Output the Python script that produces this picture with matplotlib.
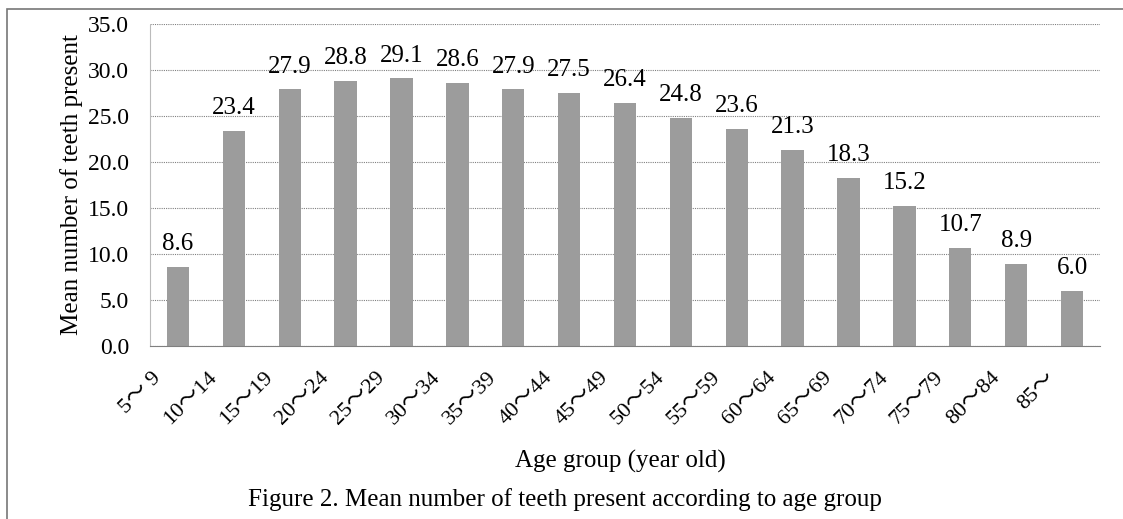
import matplotlib.pyplot as plt
import matplotlib.transforms as mtransforms
from matplotlib.patches import Rectangle

plt.rcParams['font.family'] = ['Liberation Serif', 'Noto Sans CJK JP', 'DejaVu Serif']

age_groups = ['5～ 9', '10～14', '15～19', '20～24', '25～29', '30～34', '35～39',
              '40～44', '45～49', '50～54', '55～59', '60～64', '65～69', '70～74',
              '75～79', '80～84', '85～']
mean_teeth = [8.6, 23.4, 27.9, 28.8, 29.1, 28.6, 27.9, 27.5, 26.4, 24.8, 23.6,
              21.3, 18.3, 15.2, 10.7, 8.9, 6.0]
yticks = [0, 5, 10, 15, 20, 25, 30, 35]

fig = plt.figure(figsize=(11.23, 5.19), dpi=100)
ax = fig.add_axes([0.1336, 0.3333, 0.8459, 0.6205])

x = range(len(age_groups))
bars = ax.bar(x, mean_teeth, width=0.4, color='#9c9c9c', zorder=2)
for xi, v in zip(x, mean_teeth):
    ax.annotate('%.1f' % v, (xi, v), xytext=(0, 12), textcoords='offset points',
                ha='center', va='baseline', fontsize=18)

ax.set_xlim(-0.5, len(age_groups) - 0.5)
ax.set_ylim(0, 35)
ax.set_yticks(yticks)
ax.set_yticklabels(['%.1f' % t for t in yticks], fontsize=17)
ax.set_xticks(list(x))
ax.set_xticklabels(age_groups, rotation=45, ha='right', va='top', fontsize=16,
                   rotation_mode='anchor')
ax.tick_params(axis='both', length=0)
ax.tick_params(axis='y', pad=15)
ax.tick_params(axis='x', pad=16)
shift = mtransforms.ScaledTranslation(-0.26, 0, fig.dpi_scale_trans)
for lab in ax.get_xticklabels():
    lab.set_transform(lab.get_transform() + shift)
ax.yaxis.grid(True, linestyle=(0, (1, 1)), color='#808080', linewidth=0.8, zorder=0)
for s in ['top', 'right']:
    ax.spines[s].set_visible(False)
ax.spines['left'].set_color('#bbbbbb')
ax.spines['left'].set_linestyle((0, (1, 1)))
ax.spines['bottom'].set_color('#808080')
ax.spines['bottom'].set_linestyle((0, (1, 1)))

ax.set_ylabel('Mean number of teeth present', fontsize=18, labelpad=4)
fig.text(0.552, 0.11, 'Age group (year old)', ha='center', va='center', fontsize=18)
fig.text(0.503, 0.037, 'Figure 2. Mean number of teeth present according to age group',
         ha='center', va='center', fontsize=18)

fig.patches.append(Rectangle((0.006, -0.1), 1.2, 1.083, transform=fig.transFigure,
                             fill=False, edgecolor='#777777', linewidth=1.2))

fig.savefig('out.png', dpi=100)
